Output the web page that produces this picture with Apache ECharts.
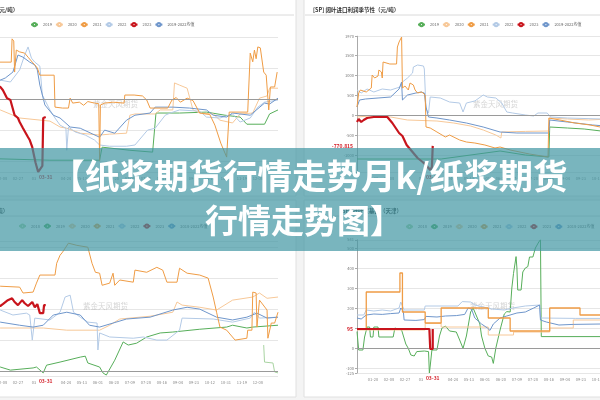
<!DOCTYPE html>
<html>
<head>
<meta charset="utf-8">
<script src="https://cdn.jsdelivr.net/npm/echarts@6/dist/echarts.min.js"></script>
<style>
html, body { margin: 0; padding: 0; background: #f4f4f4; }
#chart { width: 600px; height: 400px; }
</style>
</head>
<body>
<div id="chart"></div>
<script>
// x = day of a (leap) year, 0 = 01-01
const topNames = ['2019', '2020', '2021', '2022', '2023', '2019-2022均值'];
const bottomNames = ['2018', '2019', '2020', '2021', '2022', '2023', '2018-2022均值'];

// top left
const tl2019 = [[0,-190],[95,-197],[154,-197],[157,-155],[190,-165],[217,-171],[221,-45],[249,-45],[281,-42],[303,-52],[321,-58],[329,-81],[350,-81],[356,-48],[366,-35]];
const tl2020 = [[0,-20],[36,-35],[59,-61],[95,-71],[107,-90],[115,-94],[131,-110],[154,-116],[166,-113],[186,-110],[190,-52],[196,-48],[220,-48],[226,-35],[241,-35],[243,52],[249,45],[258,35],[265,-35],[273,-45],[289,-48],[297,-68],[312,-77],[321,-48],[336,-45],[344,3],[353,10],[356,35],[366,35]];
const tl2021 = [[0,115],[20,120],[35,119],[49,119],[50,194],[52,187],[53,87],[55,158],[59,152],[65,148],[69,135],[74,119],[77,110],[80,100],[83,77],[100,77],[101,-26],[110,-29],[117,-29],[119,3],[122,-13],[130,-10],[135,-20],[140,-8],[148,-13],[153,-15],[154,-200],[155,-19],[160,-13],[170,-10],[183,-13],[184,13],[195,13],[205,10],[210,-3],[214,-29],[235,-29],[240,-3],[245,5],[250,-10],[258,3],[265,-5],[273,-45],[285,-50],[291,-84],[298,-142],[305,-187],[308,-42],[330,-42],[333,148],[336,120],[338,158],[340,130],[342,168],[345,165],[349,87],[352,77],[355,-35],[357,39],[362,39],[365,87]];
const tl2022 = [[0,45],[36,61],[48,55],[59,94],[65,142],[69,168],[73,132],[77,119],[83,106],[86,13],[89,-3],[95,-35],[101,-61],[107,-84],[114,-94],[115,-165],[117,-90],[125,-106],[137,-116],[148,-132],[154,-148],[166,-152],[186,-152],[196,-148],[211,-100],[220,-94],[232,-52],[238,-45],[249,-35],[273,-39],[281,-58],[297,-61],[312,-48],[321,-74],[333,-61],[342,-26],[350,-10],[366,-3]];
const tl2023 = [[0,60],[18,45],[36,39],[39,29],[44,3],[48,-3],[53,-52],[57,-61],[59,-74],[63,-94],[65,-100],[69,-123],[71,-132],[74,-155],[76,-181],[78,-206],[81,-235],[83,-232],[86,-215],[87,-61],[90,-58]];
const tlMean = [[0,29],[36,61],[42,68],[51,87],[57,142],[63,135],[71,119],[77,110],[80,94],[83,45],[89,-19],[99,-52],[107,-61],[119,-90],[131,-94],[146,-113],[154,-123],[160,-100],[172,-110],[186,-68],[196,-52],[214,-45],[220,-26],[241,-26],[261,-29],[281,-35],[289,-52],[305,-58],[312,-45],[333,-52],[336,-45],[350,-13],[356,-16],[366,3]];

// top right: 阔叶进口利润
const tr2019 = [[0,-1100],[100,-1100],[170,-900],[200,-1000],[228,-1050],[229,-300],[250,-325],[270,-350],[290,-400],[320,-425],[366,-400]];
const tr2020 = [[0,-50],[15,-25],[40,-50],[60,-125],[95,-150],[115,-200],[135,-275],[150,-375],[165,-500],[171,-575],[172,-425],[200,-410],[228,-400],[229,-75],[250,-100],[275,-125],[300,-100],[330,-150],[366,-125]];
const tr2021 = [[0,200],[2,550],[4,625],[6,675],[11,575],[17,675],[18,1000],[21,925],[25,975],[26,1125],[29,1075],[30,925],[31,1325],[39,1275],[47,1275],[48,1700],[50,1825],[53,1950],[54,675],[57,725],[61,625],[63,800],[67,750],[69,625],[72,550],[77,575],[81,500],[82,-300],[87,-325],[95,-425],[105,-550],[110,-500],[122,-625],[130,-675],[140,-700],[152,-750],[164,-825],[170,-800],[182,-875],[205,-975],[227,-1050],[228,-75],[241,-125],[259,-200],[277,-250],[289,-300],[310,-300],[340,-350],[366,-300]];
const tr2022 = [[0,625],[5,550],[12,650],[20,575],[30,650],[40,625],[51,700],[54,825],[60,925],[66,1050],[67,1200],[72,1250],[79,1225],[80,1150],[82,150],[85,50],[87,450],[99,425],[110,325],[122,300],[126,75],[130,300],[140,350],[150,500],[155,450],[165,425],[172,300],[178,75],[185,50],[200,0],[210,-25],[215,50],[226,50],[230,-50],[250,-75],[290,-100],[320,-125],[366,-100]];
const tr2023 = [[0,-175],[2,-100],[5,-175],[8,-125],[12,-75],[20,-50],[30,-50],[36,-50],[38,-75],[42,-200],[46,-325],[50,-450],[54,-525],[59,-750],[63,-850],[67,-950],[72,-1075],[78,-1175],[83,-1275],[87,-1375],[89,-1300],[90,-770.815]];
const trMean = [[0,200],[3,375],[10,400],[25,425],[40,450],[50,650],[53,825],[54,375],[60,500],[70,550],[76,575],[80,550],[82,200],[85,-50],[95,-75],[110,-125],[130,-200],[150,-300],[170,-425],[190,-450],[228,-450],[229,-125],[250,-175],[280,-250],[310,-300],[340,-325],[366,-300]];

// bottom left
const bl2018 = [[349,84],[350,29],[360,26],[362,-3],[366,-6]];
const bl2019 = [[0,10],[36,13],[48,3],[75,10],[79,13],[87,-6],[91,19],[107,29],[131,45],[137,48],[140,26],[154,13],[158,-6],[162,-13],[172,35],[182,94],[188,84],[198,90],[210,110],[226,123],[241,126],[273,135],[305,142],[312,148],[329,139],[336,142],[366,148]];
const bl2020 = [[0,150],[36,139],[87,139],[115,132],[154,132],[166,148],[178,168],[214,177],[241,190],[246,223],[252,213],[273,206],[293,197],[312,229],[336,239],[344,252],[353,235],[366,239]];
const bl2021 = [[0,260],[20,270],[36,274],[59,271],[63,252],[75,255],[79,284],[83,310],[101,310],[103,348],[107,374],[110,384],[117,413],[127,406],[140,400],[145,348],[149,319],[154,316],[157,277],[166,284],[170,316],[172,277],[178,294],[194,287],[196,326],[210,319],[222,335],[229,326],[234,287],[246,287],[249,332],[258,316],[273,310],[283,300],[289,239],[293,190],[297,142],[305,132],[315,100],[329,106],[330,132],[335,132],[336,255],[340,252],[341,142],[344,229],[353,197],[354,106],[358,155],[362,155],[366,190]];
const bl2022 = [[0,190],[36,197],[51,181],[67,187],[71,181],[74,100],[77,171],[95,165],[107,190],[113,239],[119,245],[123,190],[131,174],[140,158],[151,155],[152,68],[154,123],[166,110],[194,106],[206,110],[222,100],[234,100],[249,132],[252,171],[289,168],[312,158],[333,171],[338,190],[344,171],[366,174]];
const bl2023 = [[0,200],[20,210],[36,210],[39,216],[45,229],[50,235],[53,223],[57,213],[62,229],[65,219],[69,210],[74,223],[77,206],[80,216],[83,187],[87,187],[88,213],[90,213]];
const blMean = [[0,165],[36,158],[59,148],[75,142],[87,148],[99,181],[115,190],[131,181],[142,148],[154,142],[186,168],[214,174],[241,197],[258,206],[273,200],[293,174],[312,165],[329,174],[341,187],[353,171],[366,174]];

// bottom right
const br2019 = [[0,82],[2,-10],[7,-10],[9,55],[12,105],[15,105],[16,55],[19,55],[20,105],[25,105],[26,55],[43,55],[45,100],[47,90],[53,90],[58,20],[61,-2],[64,-35],[68,-40],[71,-18],[80,-15],[85,-18],[86,-125],[87,-90],[89,-10],[95,-10],[98,60],[101,100],[105,110],[110,85],[118,80],[122,40],[126,-2],[130,60],[135,180],[138,200],[142,160],[146,120],[148,60],[152,-2],[156,-40],[160,-45],[162,-77],[165,0],[170,90],[175,170],[178,182],[182,180],[184,300],[186,373],[188,380],[189,457],[190,400],[191,290],[195,290],[197,380],[200,400],[203,407],[205,455],[209,455],[212,500],[214,515],[216,530],[218,541],[219,57],[366,57]];
const br2020 = [[0,90],[81,123],[100,105],[156,65],[186,80],[229,100],[257,140],[366,140]];
const br2021 = [[0,95],[11,280],[51,375],[54,180],[81,125],[100,200],[156,150],[182,85],[229,200],[265,165],[366,165]];
const br2022 = [[0,165],[8,165],[11,190],[20,185],[30,190],[40,185],[50,200],[52,230],[54,210],[56,190],[80,190],[81,210],[120,210],[125,232],[135,230],[140,215],[150,205],[160,195],[175,190],[185,200],[200,210],[217,215],[218,150],[260,148],[300,148],[366,150]];
const br2023 = [[0,95],[86,95],[87,-5],[89,-5],[90,95]];
const brMean = [[0,150],[5,145],[11,165],[20,170],[30,168],[40,172],[50,175],[52,200],[55,185],[56,140],[70,138],[80,142],[82,158],[95,155],[105,160],[118,162],[128,168],[132,200],[136,195],[140,150],[148,120],[155,100],[158,88],[162,120],[170,150],[178,160],[190,175],[200,180],[210,200],[217,215],[218,140],[225,130],[240,115],[257,118],[290,120],[330,118],[366,120]];

const colors = {
    '2018': '#a9d4a2',
    '2019': '#57ae5a',
    '2020': '#f7c898',
    '2021': '#ef9c45',
    '2022': '#b3cae6',
    '2023': '#c8141c',
    mean: '#6f96cb'
};

const monthStarts = [0, 31, 60, 91, 121, 152, 182, 213, 244, 274, 305, 335];
function dayLabel(d) {
    let m = 11;
    while (monthStarts[m] > d) m--;
    const dd = d - monthStarts[m] + 1;
    return String(m + 1).padStart(2, '0') + '-' + String(dd).padStart(2, '0');
}

const cjk = '"Noto Sans CJK SC", "Noto Sans", sans-serif';
const hidden = 'rgba(0,0,0,0)';
const redText = { color: '#d4212a', fontSize: 5, fontWeight: 'bold', backgroundColor: '#fff', padding: [0, 1] };

function line(name, data, idx, color, extra) {
    return Object.assign({
        name: name,
        type: 'line',
        data: data,
        xAxisIndex: idx,
        yAxisIndex: idx,
        symbol: 'emptyCircle',
        showSymbol: false,
        symbolSize: 3,
        lineStyle: { width: 1, color: color },
        itemStyle: { color: color },
        silent: true,
        z: 2
    }, extra || {});
}

function zeroLine() {
    return {
        symbol: 'none', silent: true,
        data: [{ yAxis: 0, lineStyle: { color: '#9a9a9a', width: 1, type: 'solid' }, label: { show: false } }]
    };
}

function redLine(data, idx, lastText, step) {
    const last = data[data.length - 1][1];
    return line('2023', data, idx, colors['2023'], {
        z: 5,
        step: step || false,
        lineStyle: { width: 2.2, color: colors['2023'] },
        markLine: {
            symbol: 'none', silent: true,
            data: [
                { xAxis: 90, lineStyle: { color: hidden, width: 0 }, label: Object.assign({ show: true, position: 'start', distance: 3, formatter: '03-31' }, redText) },
                { yAxis: last, lineStyle: { color: hidden, width: 0 }, label: Object.assign({ show: true, position: 'start', distance: 3, formatter: lastText }, redText) }
            ]
        }
    });
}

function xAxisAt(idx) {
    return {
        gridIndex: idx, type: 'value', min: 0, max: 366, interval: 19,
        axisLine: { show: false }, axisTick: { show: false }, splitLine: { show: false },
        axisLabel: {
            fontSize: 4, color: '#888', margin: 4,
            formatter: function (v) {
                if (v === 0 || v % 19 !== 0 || v === 95 || v > 350) return '';
                if (v === 76) return '03';
                return dayLabel(v);
            }
        }
    };
}

function yAxisAt(idx, min, max, showLine) {
    return {
        gridIndex: idx, type: 'value', min: min, max: max, splitNumber: 5,
        axisLine: { show: showLine, lineStyle: { color: '#aaa' } },
        axisTick: { show: showLine, length: 2, lineStyle: { color: '#aaa' } },
        axisLabel: { fontSize: 4, color: '#777', margin: 3, formatter: function (v) { return String(v); } },
        splitLine: { lineStyle: { color: '#e6e6e6', width: 1 } }
    };
}

function legendAt(left, top, names) {
    return {
        left: left, top: top, width: 400, data: names, selectedMode: false,
        itemWidth: 7, itemHeight: 4, itemGap: 3,
        textStyle: { fontSize: 4, color: '#666', fontFamily: cjk }
    };
}

function wm(x, y) {
    return { type: 'text', z: 1, style: { text: '紫金天风期货', x: x, y: y, fill: 'rgba(150,150,150,0.4)', fontSize: 7.5, fontFamily: cjk, verticalAlign: 'middle' } };
}

function panel(x, y, w, h) {
    return { type: 'rect', z: -10, shape: { x: x, y: y, width: w, height: h }, style: { fill: '#fff', stroke: '#e0e0e0', lineWidth: 1 } };
}

function hline(x1, x2, y) {
    return { type: 'line', z: -9, shape: { x1: x1, y1: y, x2: x2, y2: y }, style: { stroke: '#dadada', lineWidth: 1 } };
}

function title(text, x, y) {
    return { type: 'text', z: 1, style: { text: text, x: x, y: y, fill: '#333', fontSize: 5.5, fontWeight: 'bold', fontFamily: cjk, verticalAlign: 'middle' } };
}

const chart = echarts.init(document.getElementById('chart'));
const option = {
    animation: false,
    backgroundColor: '#f4f4f4',
    textStyle: { fontFamily: cjk },
    grid: [
        { left: -30, top: 37, width: 308, height: 135, outerBoundsMode: 'none' },
        { left: 357, top: 36.2, width: 308, height: 135.8, outerBoundsMode: 'none' },
        { left: -30, top: 241, width: 308, height: 135, outerBoundsMode: 'none' },
        { left: 357, top: 239.8, width: 308, height: 133.2, outerBoundsMode: 'none' }
    ],
    xAxis: [xAxisAt(0), xAxisAt(1), xAxisAt(2), xAxisAt(3)],
    yAxis: [
        yAxisAt(0, -235, 200, false),
        yAxisAt(1, -1425, 1970, true),
        yAxisAt(2, -16, 420, false),
        yAxisAt(3, -125, 541, true)
    ],
    legend: [
        legendAt(25, 17, topNames),
        legendAt(412, 17, topNames),
        legendAt(13, 218.5, bottomNames),
        legendAt(400, 219, bottomNames)
    ],
    series: [
        line('2019', tl2019, 0, colors['2019'], { markLine: zeroLine() }),
        line('2020', tl2020, 0, colors['2020']),
        line('2022', tl2022, 0, colors['2022']),
        line('2019-2022均值', tlMean, 0, colors.mean),
        line('2021', tl2021, 0, colors['2021']),
        redLine(tl2023, 0, '-58'),

        line('2019', tr2019, 1, colors['2019'], { markLine: zeroLine() }),
        line('2020', tr2020, 1, colors['2020']),
        line('2022', tr2022, 1, colors['2022']),
        line('2019-2022均值', trMean, 1, colors.mean),
        line('2021', tr2021, 1, colors['2021']),
        redLine(tr2023, 1, '-770.815'),

        line('2018', bl2018, 2, colors['2018']),
        line('2019', bl2019, 2, colors['2019'], { markLine: zeroLine() }),
        line('2020', bl2020, 2, colors['2020']),
        line('2022', bl2022, 2, colors['2022']),
        line('2018-2022均值', blMean, 2, colors.mean),
        line('2021', bl2021, 2, colors['2021']),
        redLine(bl2023, 2, '213'),

        line('2018', [], 3, colors['2018']),
        line('2019', br2019, 3, colors['2019'], { markLine: zeroLine() }),
        line('2020', br2020, 3, colors['2020'], { step: 'end' }),
        line('2022', br2022, 3, colors['2022']),
        line('2018-2022均值', brMean, 3, colors.mean),
        line('2021', br2021, 3, colors['2021'], { step: 'end', lineStyle: { width: 1.3, color: colors['2021'] } }),
        redLine(br2023, 3, '95', 'end')
    ],
    graphic: [
        panel(-2, -2, 298, 198),
        panel(304, -2, 300, 198),
        panel(-2, 200, 298, 197),
        panel(304, 200, 300, 197),
        hline(0, 294, 15),
        hline(305, 600, 15),
        hline(0, 294, 216),
        hline(305, 600, 216),
        title('（元/吨）', -6, 9.5),
        title('[SP] 阔叶进口利润季节性（元/吨）', 313, 9.5),
        title('（元/吨）', -16, 211),
        title('[SP] 针叶浆基差（天津）', 340, 211),
        wm(93, 104),
        wm(473, 104),
        wm(83, 306),
        wm(470, 306),
        { type: 'rect', z: 100, shape: { x: 0, y: 148, width: 600, height: 103 }, style: { fill: 'rgba(64,150,162,0.7)' } },
        { type: 'text', z: 101, style: { text: '【纸浆期货行情走势月k/纸浆期货', x: 309, y: 176, align: 'center', verticalAlign: 'middle', fill: '#fff', fontSize: 34.5, fontWeight: 'bold', fontFamily: cjk } },
        { type: 'text', z: 101, style: { text: '行情走势图】', x: 304, y: 220, align: 'center', verticalAlign: 'middle', fill: '#fff', fontSize: 33, fontWeight: 'bold', fontFamily: cjk } }
    ]
};
chart.setOption(option);
</script>
</body>
</html>
